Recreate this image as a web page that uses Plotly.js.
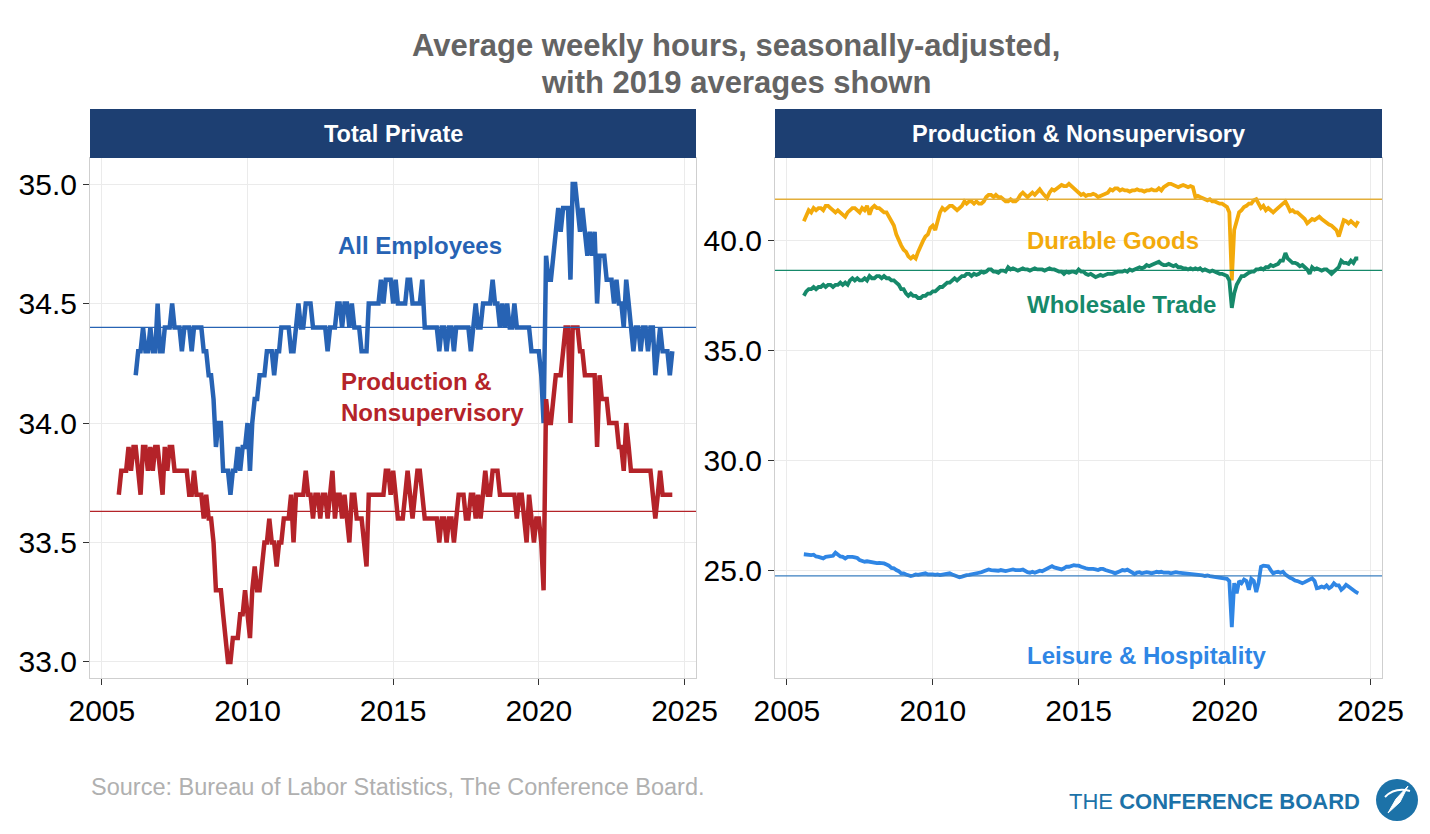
<!DOCTYPE html>
<html><head><meta charset="utf-8">
<script src="https://cdn.plot.ly/plotly-3.0.1.min.js"></script>
<style>html,body{margin:0;padding:0;background:#fff}#chart{width:1430px;height:834px}</style>
</head><body><div id="chart"></div>
<script>
// ---------------- DATA (monthly, seasonally adjusted average weekly hours) ----------------
// Total private, all employees: Mar 2006 - Aug 2024
const allEmpStart = [2006, 3];
const allEmployees = [
  34.2,34.3,34.3,34.4,34.3,34.3,34.4,34.3,34.3,34.5,
  34.3,34.3,34.4,34.4,34.4,34.5,34.4,34.4,34.4,34.3,34.4,34.4,
  34.4,34.3,34.4,34.4,34.4,34.4,34.3,34.3,34.2,34.2,34.1,33.9,
  34.0,34.0,33.8,33.8,33.8,33.7,33.8,33.8,33.9,33.8,33.9,33.9,
  34.0,33.8,34.0,34.1,34.1,34.2,34.2,34.2,34.3,34.3,34.3,34.2,
  34.3,34.3,34.4,34.4,34.4,34.4,34.3,34.3,34.4,34.5,34.4,34.4,
  34.5,34.5,34.5,34.4,34.4,34.4,34.4,34.4,34.4,34.3,34.4,34.4,
  34.4,34.5,34.5,34.4,34.5,34.5,34.4,34.5,34.4,34.4,34.4,34.3,
  34.3,34.3,34.5,34.5,34.5,34.5,34.5,34.6,34.5,34.6,34.6,34.6,
  34.5,34.6,34.5,34.5,34.5,34.5,34.6,34.6,34.5,34.5,34.5,34.5,
  34.6,34.4,34.4,34.4,34.4,34.4,34.4,34.3,34.4,34.4,34.3,34.4,
  34.4,34.3,34.4,34.4,34.4,34.4,34.4,34.4,34.3,34.4,34.5,34.4,
  34.4,34.5,34.5,34.5,34.5,34.6,34.5,34.5,34.4,34.5,34.4,34.5,
  34.4,34.4,34.5,34.4,34.4,34.4,34.4,34.4,34.4,34.3,34.3,34.3,
  34.3,34.2,34.0,34.7,34.6,34.6,34.7,34.8,34.9,34.8,34.9,34.9,
  34.9,34.6,35.0,35.0,34.9,34.8,34.9,34.8,34.7,34.8,34.7,34.8,
  34.5,34.7,34.7,34.7,34.6,34.6,34.6,34.5,34.6,34.5,34.5,34.4,
  34.6,34.5,34.4,34.3,34.4,34.4,34.3,34.4,34.4,34.3,34.4,34.4,
  34.2,34.3,34.4,34.3,34.3,34.3,34.2,34.3
];
// Production & nonsupervisory series: Aug 2005 - Aug 2024
const pnsStart = [2005, 8];
const totalPrivatePNS = [
  33.7,33.8,33.8,33.8,33.9,
  33.8,33.9,33.9,33.8,33.7,33.9,33.9,33.8,33.9,33.8,33.9,33.9,
  33.8,33.7,33.9,33.8,33.9,33.9,33.8,33.8,33.8,33.8,33.8,33.8,
  33.7,33.7,33.8,33.7,33.7,33.7,33.6,33.7,33.6,33.6,33.5,33.3,
  33.3,33.3,33.2,33.1,33.0,33.0,33.1,33.1,33.1,33.2,33.2,33.3,
  33.2,33.1,33.3,33.4,33.3,33.3,33.4,33.5,33.5,33.6,33.5,33.5,
  33.4,33.5,33.5,33.6,33.6,33.6,33.7,33.5,33.7,33.7,33.7,33.7,
  33.8,33.7,33.7,33.6,33.7,33.7,33.6,33.7,33.7,33.6,33.7,33.8,
  33.6,33.7,33.7,33.6,33.7,33.6,33.5,33.7,33.7,33.6,33.6,33.6,
  33.5,33.4,33.7,33.7,33.7,33.7,33.7,33.7,33.7,33.8,33.8,33.7,
  33.8,33.7,33.6,33.6,33.6,33.7,33.8,33.7,33.6,33.7,33.8,33.8,
  33.7,33.6,33.6,33.6,33.6,33.6,33.6,33.5,33.6,33.6,33.5,33.6,
  33.6,33.5,33.6,33.7,33.7,33.7,33.6,33.6,33.7,33.7,33.6,33.7,
  33.6,33.7,33.8,33.7,33.7,33.8,33.8,33.8,33.7,33.7,33.7,33.7,
  33.7,33.7,33.7,33.6,33.7,33.7,33.6,33.5,33.7,33.6,33.5,33.6,
  33.6,33.5,33.3,34.1,34.0,34.0,34.1,34.2,34.2,34.2,34.3,34.4,
  34.4,34.0,34.4,34.4,34.4,34.3,34.3,34.2,34.2,34.2,34.2,34.2,
  33.9,34.2,34.1,34.1,34.1,34.0,34.0,34.0,34.0,33.9,33.9,33.8,
  34.0,33.9,33.8,33.8,33.8,33.8,33.8,33.8,33.8,33.8,33.8,33.7,
  33.6,33.7,33.8,33.7,33.7,33.7,33.7,33.7
];
const durableGoods = [
  40.9,41.2,41.4,41.3,41.5,
  41.4,41.5,41.5,41.4,41.6,41.6,41.5,41.4,41.3,41.4,41.3,41.2,
  41.1,41.3,41.4,41.5,41.5,41.4,41.3,41.5,41.4,41.6,41.2,41.5,
  41.6,41.5,41.5,41.4,41.3,41.3,41.1,40.9,40.7,40.3,40.0,39.8,
  39.6,39.5,39.3,39.2,39.3,39.2,39.5,39.8,40.0,40.2,40.3,40.6,
  40.7,40.5,40.9,41.3,41.5,41.4,41.5,41.6,41.6,41.5,41.4,41.5,
  41.6,41.8,41.7,41.8,41.8,41.7,41.8,41.7,41.7,41.8,42.0,42.1,
  42.1,42.0,42.1,42.0,42.0,41.9,41.8,41.8,41.9,41.8,41.8,41.9,
  42.1,42.2,42.1,42.0,42.1,42.2,42.1,42.2,42.35,42.2,42.1,41.95,
  42.2,42.35,42.3,42.4,42.5,42.55,42.5,42.5,42.6,42.5,42.4,42.35,
  42.2,42.1,42.15,42.05,42.1,42.1,42.15,42.1,42.0,42.05,42.1,42.15,
  42.2,42.35,42.3,42.4,42.4,42.3,42.35,42.3,42.3,42.25,42.3,42.3,
  42.35,42.3,42.3,42.25,42.3,42.3,42.35,42.3,42.3,42.4,42.3,42.45,
  42.55,42.6,42.6,42.55,42.5,42.45,42.5,42.55,42.5,42.45,42.5,42.45,
  42.0,42.05,42.0,41.95,41.9,41.85,41.9,41.8,41.8,41.75,41.7,41.7,
  41.6,41.55,41.3,38.2,40.5,41.0,41.3,41.4,41.55,41.6,41.7,41.7,
  41.85,41.9,41.7,41.5,41.6,41.4,41.5,41.4,41.3,41.4,41.5,41.55,
  41.7,41.8,41.6,41.35,41.4,41.3,41.3,41.2,41.1,41.0,40.8,40.9,
  41.0,40.95,41.0,41.1,41.0,40.9,40.8,40.75,40.7,40.6,40.5,40.2,
  40.6,40.95,40.9,40.8,40.9,40.8,40.7,40.9
];
const wholesaleTrade = [
  37.5,37.7,37.8,37.8,37.9,
  37.8,37.9,37.9,38.0,37.9,38.0,38.0,37.9,38.0,38.0,38.1,38.0,
  38.1,38.0,38.2,38.3,38.2,38.3,38.2,38.2,38.3,38.2,38.4,38.3,
  38.3,38.4,38.4,38.3,38.4,38.3,38.3,38.2,38.2,38.1,38.0,37.8,
  37.8,37.6,37.5,37.6,37.5,37.5,37.4,37.4,37.5,37.5,37.6,37.6,
  37.7,37.7,37.8,37.9,37.9,38.0,38.1,38.1,38.2,38.3,38.2,38.3,
  38.4,38.4,38.5,38.5,38.4,38.5,38.45,38.5,38.6,38.55,38.6,38.7,
  38.7,38.6,38.6,38.55,38.65,38.65,38.6,38.8,38.7,38.75,38.7,38.65,
  38.7,38.75,38.7,38.7,38.65,38.7,38.75,38.7,38.7,38.7,38.65,38.7,
  38.75,38.7,38.7,38.65,38.6,38.6,38.5,38.6,38.55,38.6,38.6,38.55,
  38.7,38.6,38.6,38.5,38.45,38.5,38.4,38.35,38.4,38.45,38.4,38.45,
  38.5,38.5,38.5,38.55,38.6,38.6,38.6,38.65,38.6,38.7,38.65,38.7,
  38.75,38.8,38.75,38.8,38.9,38.85,38.9,38.95,39.0,39.05,38.95,38.9,
  38.9,38.95,38.9,38.85,38.9,38.8,38.8,38.75,38.75,38.7,38.75,38.7,
  38.75,38.7,38.75,38.65,38.7,38.65,38.6,38.65,38.6,38.55,38.5,38.5,
  38.45,38.4,38.2,36.95,37.6,38.0,38.2,38.4,38.4,38.5,38.55,38.6,
  38.6,38.7,38.7,38.75,38.7,38.8,38.8,38.9,38.85,38.9,38.95,39.1,
  39.1,39.45,39.2,39.1,39.0,39.0,38.95,38.85,38.9,38.8,38.7,38.5,
  38.8,38.7,38.75,38.7,38.65,38.7,38.7,38.6,38.5,38.6,38.7,38.8,
  39.1,39.0,39.0,38.95,39.1,39.0,39.2,39.2
];
const leisureHospitality = [
  25.72,25.7,25.72,25.68,25.7,
  25.62,25.6,25.55,25.53,25.6,25.62,25.6,25.65,25.79,25.7,25.62,25.6,
  25.53,25.6,25.62,25.6,25.58,25.55,25.45,25.4,25.38,25.4,25.38,25.36,
  25.3,25.32,25.33,25.33,25.3,25.25,25.2,25.1,25.08,25.0,24.95,24.85,
  24.85,24.8,24.75,24.73,24.75,24.8,24.78,24.8,24.85,24.85,24.8,24.82,
  24.8,24.78,24.8,24.77,24.78,24.8,24.82,24.85,24.8,24.75,24.72,24.67,
  24.7,24.75,24.77,24.78,24.8,24.82,24.85,24.88,24.9,24.95,25.0,25.03,
  25.0,24.98,24.95,24.97,25.0,24.97,24.95,24.98,25.0,25.03,25.0,24.98,
  25.0,25.02,24.95,24.9,24.88,24.92,24.88,24.95,24.97,24.95,25.0,25.05,
  25.1,25.18,25.12,25.08,25.05,25.03,25.08,25.15,25.15,25.18,25.22,25.2,
  25.2,25.15,25.1,25.08,25.05,25.07,25.05,25.03,25.0,25.05,25.05,25.0,
  24.98,24.95,24.9,24.85,24.92,24.95,25.0,24.98,25.02,24.95,24.9,24.82,
  24.88,24.9,24.85,24.88,24.9,24.88,24.85,24.88,24.92,24.9,24.92,24.88,
  24.9,24.88,24.85,24.88,24.9,24.88,24.87,24.85,24.86,24.85,24.82,24.8,
  24.8,24.78,24.8,24.76,24.73,24.75,24.72,24.7,24.7,24.68,24.67,24.65,
  24.62,24.6,24.5,22.4,24.4,23.94,24.5,24.4,24.57,24.5,24.1,24.6,
  24.5,24.0,24.4,25.15,25.2,25.2,25.17,25.0,24.85,24.9,24.92,24.88,
  24.92,24.8,24.7,24.65,24.6,24.52,24.5,24.45,24.4,24.45,24.5,24.55,
  24.62,24.5,24.17,24.2,24.25,24.2,24.3,24.17,24.25,24.4,24.3,24.3,
  24.1,24.2,24.33,24.25,24.15,24.1,24.0,23.94
];
// 2019 averages (reference lines)
const avg2019Left = {allEmployees: 34.4, pns: 33.63};
const avg2019Right = {durable: 41.9, wholesale: 38.66, leisure: 24.73};
const titleLines = ["Average weekly hours, seasonally-adjusted,", "with 2019 averages shown"];
const panelTitles = ["Total Private", "Production & Nonsupervisory"];
const leftTicks = [33.0, 33.5, 34.0, 34.5, 35.0];
const rightTicks = [25.0, 30.0, 35.0, 40.0];

// ---------------- HELPERS ----------------
function months(start, n) {
  const out = [];
  let y = start[0], m = start[1];
  for (let i = 0; i < n; i++) {
    out.push(y + '-' + String(m).padStart(2, '0') + '-01');
    m++; if (m > 12) { m = 1; y++; }
  }
  return out;
}
const W = 1430, H = 834;
const px = x => x / W;
const py = y => 1 - y / H;

const C = {
  blue: '#2763B4', red: '#B42329', gold: '#F3AA0B', green: '#16896A', lblue: '#2F86E5',
  strip: '#1D3F72', grid: '#ebebeb', border: '#cfcfcf'
};
const FONT = 'Liberation Sans, Arial, sans-serif';

const xAE = months(allEmpStart, allEmployees.length);
const xP = months(pnsStart, totalPrivatePNS.length);

const line = (x, y, color, w, xa, ya, name) => ({
  type: 'scatter', mode: 'lines', x, y, name, xaxis: xa, yaxis: ya,
  line: {color, width: w, shape: 'linear'}, hoverinfo: 'skip'
});

const data = [
  line(xAE, allEmployees, C.blue, 4.5, 'x', 'y', 'All Employees'),
  line(xP, totalPrivatePNS, C.red, 4.5, 'x', 'y', 'Production & Nonsupervisory'),
  line(xP, durableGoods, C.gold, 3.8, 'x2', 'y2', 'Durable Goods'),
  line(xP, wholesaleTrade, C.green, 3.8, 'x2', 'y2', 'Wholesale Trade'),
  line(xP, leisureHospitality, C.lblue, 3.8, 'x2', 'y2', 'Leisure & Hospitality')
];

const xRange = ['2004-08-05', '2025-05-25'];
const xCommon = {
  type: 'date', range: xRange, tick0: '2005-01-01', dtick: 'M60', tickformat: '%Y',
  showgrid: true, gridcolor: C.grid, gridwidth: 1,
  ticks: 'outside', ticklen: 6, tickcolor: '#333', tickwidth: 1,
  showline: true, linecolor: C.border, mirror: true, zeroline: false,
  tickfont: {family: FONT, size: 30, color: '#000'}, fixedrange: true
};
const yCommon = {
  showgrid: true, gridcolor: C.grid, gridwidth: 1, tickmode: 'array',
  ticks: 'outside', ticklen: 6, tickcolor: '#333', tickwidth: 1,
  showline: true, linecolor: C.border, mirror: true, zeroline: false,
  tickfont: {family: FONT, size: 30, color: '#000'}, tickformat: '.1f', fixedrange: true
};

const PL = [90, 696], PR = [775, 1382], PT = 158, PB = 678;

const layout = {
  width: W, height: H, margin: {l: 0, r: 0, t: 0, b: 0},
  paper_bgcolor: '#fff', plot_bgcolor: '#fff', showlegend: false,
  xaxis: Object.assign({}, xCommon, {domain: [px(PL[0]), px(PL[1])], anchor: 'y'}),
  yaxis: Object.assign({}, yCommon, {domain: [py(PB), py(PT)], range: [32.933, 35.109], tickvals: leftTicks, anchor: 'x'}),
  xaxis2: Object.assign({}, xCommon, {domain: [px(PR[0]), px(PR[1])], anchor: 'y2'}),
  yaxis2: Object.assign({}, yCommon, {domain: [py(PB), py(PT)], range: [20.08, 43.78], tickvals: rightTicks, anchor: 'x2'}),
  shapes: [
    {type: 'rect', xref: 'paper', yref: 'paper', x0: px(PL[0]), x1: px(PL[1]), y0: py(PT), y1: py(109), fillcolor: C.strip, line: {width: 0}},
    {type: 'rect', xref: 'paper', yref: 'paper', x0: px(PR[0]), x1: px(PR[1]), y0: py(PT), y1: py(109), fillcolor: C.strip, line: {width: 0}},
    {type: 'line', xref: 'x domain', yref: 'y', x0: 0, x1: 1, y0: avg2019Left.allEmployees, y1: avg2019Left.allEmployees, line: {color: C.blue, width: 1.2}},
    {type: 'line', xref: 'x domain', yref: 'y', x0: 0, x1: 1, y0: avg2019Left.pns, y1: avg2019Left.pns, line: {color: C.red, width: 1.2}},
    {type: 'line', xref: 'x2 domain', yref: 'y2', x0: 0, x1: 1, y0: avg2019Right.durable, y1: avg2019Right.durable, line: {color: '#E3AE3A', width: 1.6}},
    {type: 'line', xref: 'x2 domain', yref: 'y2', x0: 0, x1: 1, y0: avg2019Right.wholesale, y1: avg2019Right.wholesale, line: {color: C.green, width: 1.2}},
    {type: 'line', xref: 'x2 domain', yref: 'y2', x0: 0, x1: 1, y0: avg2019Right.leisure, y1: avg2019Right.leisure, line: {color: '#3A7FC0', width: 1.2}},
    // logo emblem
    {type: 'circle', xref: 'paper', yref: 'paper', x0: px(1376), x1: px(1418), y0: py(821), y1: py(779), fillcolor: '#1C72A8', line: {width: 0}},
    {type: 'path', xref: 'paper', yref: 'paper',
     path: 'M ' + px(1388) + ',' + py(813) + ' L ' + px(1396) + ',' + py(799) + ' L ' + px(1408) + ',' + py(786) + ' L ' + px(1400) + ',' + py(802) + ' Z',
     fillcolor: '#ffffff', line: {color: '#ffffff', width: 1}},
    {type: 'path', xref: 'paper', yref: 'paper',
     path: 'M ' + px(1385) + ',' + py(797) + ' Q ' + px(1395) + ',' + py(787) + ' ' + px(1410) + ',' + py(791),
     line: {color: '#ffffff', width: 2}}
  ],
  annotations: [
    {xref: 'paper', yref: 'paper', x: px(736), y: py(46), xanchor: 'center', yanchor: 'middle', showarrow: false,
     text: '<b>' + titleLines[0] + '</b>', font: {family: FONT, size: 31, color: '#646464'}},
    {xref: 'paper', yref: 'paper', x: px(736), y: py(82), xanchor: 'center', yanchor: 'middle', showarrow: false,
     text: '<b>' + titleLines[1] + '</b>', font: {family: FONT, size: 31, color: '#646464'}},
    {xref: 'paper', yref: 'paper', x: px((PL[0] + PL[1]) / 2), y: py(133.5), xanchor: 'center', yanchor: 'middle', showarrow: false,
     text: '<b>' + panelTitles[0] + '</b>', font: {family: FONT, size: 23.5, color: '#ffffff'}},
    {xref: 'paper', yref: 'paper', x: px((PR[0] + PR[1]) / 2), y: py(133.5), xanchor: 'center', yanchor: 'middle', showarrow: false,
     text: '<b>' + panelTitles[1] + '</b>', font: {family: FONT, size: 23.5, color: '#ffffff'}},
    {xref: 'paper', yref: 'paper', x: px(420), y: py(246), xanchor: 'center', yanchor: 'middle', showarrow: false,
     text: '<b>All Employees</b>', font: {family: FONT, size: 24, color: C.blue}},
    {xref: 'paper', yref: 'paper', x: px(339), y: py(397), xanchor: 'left', yanchor: 'middle', showarrow: false, align: 'left',
     text: '<b>Production &<br>Nonsupervisory</b>', font: {family: FONT, size: 24, color: C.red}},
    {xref: 'paper', yref: 'paper', x: px(1025), y: py(241), xanchor: 'left', yanchor: 'middle', showarrow: false,
     text: '<b>Durable Goods</b>', font: {family: FONT, size: 24, color: C.gold}},
    {xref: 'paper', yref: 'paper', x: px(1025), y: py(305), xanchor: 'left', yanchor: 'middle', showarrow: false,
     text: '<b>Wholesale Trade</b>', font: {family: FONT, size: 24, color: C.green}},
    {xref: 'paper', yref: 'paper', x: px(1025), y: py(655), xanchor: 'left', yanchor: 'middle', showarrow: false,
     text: '<b>Leisure & Hospitality</b>', font: {family: FONT, size: 24, color: C.lblue}},
    {xref: 'paper', yref: 'paper', x: px(89), y: py(787), xanchor: 'left', yanchor: 'middle', showarrow: false,
     text: 'Source: Bureau of Labor Statistics, The Conference Board.', font: {family: FONT, size: 23.5, color: '#b0b0b0'}},
    {xref: 'paper', yref: 'paper', x: px(1362), y: py(801), xanchor: 'right', yanchor: 'middle', showarrow: false,
     text: 'THE <b>CONFERENCE BOARD</b>', font: {family: FONT, size: 22, color: '#1C72A8'}}
  ]
};

Plotly.newPlot('chart', data, layout, {displayModeBar: false, staticPlot: true});
</script>
</body></html>
